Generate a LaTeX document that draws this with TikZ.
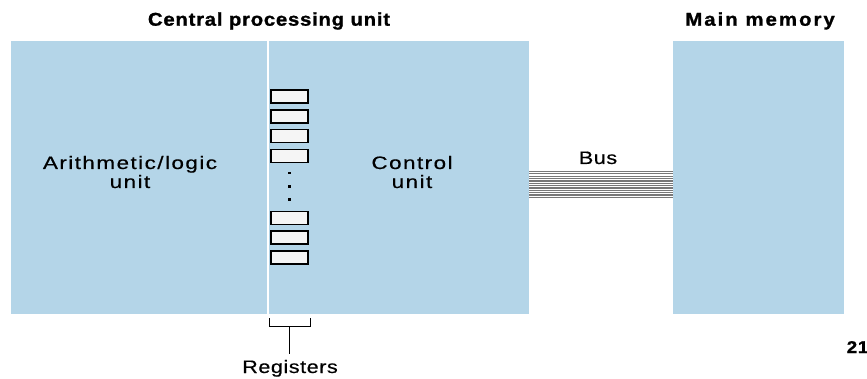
\documentclass[tikz,border=0pt]{standalone}
\usepackage{fontspec}
\setmainfont{Liberation Sans}
\newfontfamily\labelfont[FakeStretch=1.25,LetterSpace=8,FakeBold=0.4]{Liberation Sans}
\newfontfamily\narrowlabel[FakeStretch=1.2,LetterSpace=3,FakeBold=0.4]{Liberation Sans}
\newfontfamily\headfont[FakeStretch=1.1,LetterSpace=4,BoldFeatures={FakeBold=1.2}]{Liberation Sans}
\newfontfamily\widehead[FakeStretch=1.1,LetterSpace=11,BoldFeatures={FakeBold=1.2}]{Liberation Sans}
\definecolor{unitblue}{HTML}{B4D5E8}
\definecolor{regfill}{HTML}{F5F5F5}
\definecolor{busgray}{HTML}{787878}
\tikzset{
  block/.style={fill=unitblue, draw=none, inner sep=0pt, anchor=north west},
  regbox/.style={draw=black, fill=regfill, line width=1.7pt, minimum width=37.3pt, minimum height=13pt, inner sep=0pt},
  regdot/.style={rectangle, fill=black, inner sep=0pt, minimum size=2.8pt},
  unitlabel/.style={font=\labelfont\fontsize{18}{19}\selectfont, align=center, inner sep=0pt, anchor=base},
  headlabel/.style={font=\headfont\bfseries\fontsize{18.5}{20}\selectfont, inner sep=0pt, anchor=base},
  busline/.style={draw=busgray, line width=1.25pt},
  bracket/.style={draw=black, line width=1pt}
}
\begin{document}
\begin{tikzpicture}[x=1pt,y=-1pt]
\useasboundingbox (0,0) rectangle (867,379);
\fill[white] (0,0) rectangle (867,379);

% processor and memory blocks
\node[block, minimum width=517.5pt, minimum height=273pt] (cpu) at (11,41) {};
\node[block, minimum width=171pt, minimum height=273pt] (mem) at (673,41) {};

% boundary between the two halves of the processor
\coordinate (divtop) at (267.7,41);
\coordinate (divbot) at (267.7,314);
\draw[white, line width=2pt] (divtop) -- (divbot);

% titles
\node[headlabel] (cputitle) at (269,25.7) {Central processing unit};
\node[headlabel, font=\widehead\bfseries\fontsize{18.5}{20}\selectfont, anchor=base east] (memtitle) at (835,25.7) {Main memory};

% unit labels (anchored at the baseline of the second line)
\node[unitlabel] (alu) at (130,188) {Arithmetic/logic\\unit};
\node[unitlabel] (ctrl) at (412,188) {Control\\unit};

% register file
\foreach \n/\y in {1/96.7, 2/116.7, 3/136, 4/156, 5/218, 6/237.4, 7/257.4}
  \node[regbox] (reg\n) at (289.5,\y) {};
\foreach \n/\y in {1/173, 2/186.2, 3/199.4}
  \node[regdot] (dot\n) at (289.3,\y) {};

% bracket that groups the registers
\coordinate (brl) at (269,318);
\coordinate (brr) at (310.5,318);
\coordinate (brm) at (289.6,326.5);
\node[unitlabel, font=\narrowlabel\fontsize{18}{19}\selectfont] (reglabel) at (290,373) {Registers};
\coordinate (stemend) at (289.6,354);
\draw[bracket] (brl) |- (brr |- brm) -- (brr);
\draw[bracket] (brm) -- (stemend);

% bus between processor and memory
\node[unitlabel, font=\narrowlabel\fontsize{18}{19}\selectfont] (buslabel) at (598,164) {Bus};
\foreach \i in {0,...,11}
  \draw[busline] (cpu.east |- 0,171.5+2.35*\i) -- (mem.west |- 0,171.5+2.35*\i);

% page number
\node[headlabel, font=\headfont\bfseries\fontsize{17}{18}\selectfont] (pagenum) at (857.5,353) {21};
\end{tikzpicture}
\end{document}
